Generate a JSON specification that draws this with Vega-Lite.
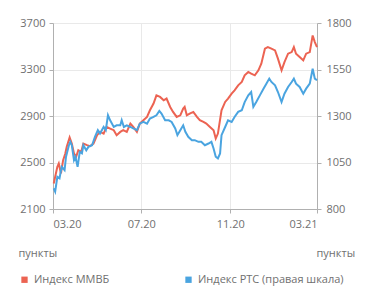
{
  "$schema": "https://vega.github.io/schema/vega-lite/v6.json",
  "width": 264,
  "height": 186,
  "autosize": {"type": "none"},
  "padding": {"left": 53, "top": 23, "right": 54, "bottom": 94},
  "background": "white",
  "config": {
    "view": {"stroke": null},
    "font": "Open Sans",
    "axis": {
      "labelFont": "Open Sans", "labelFontSize": 11, "labelColor": "#707070",
      "domainColor": "#b0b0b0", "tickColor": "#b0b0b0", "tickSize": 4,
      "gridColor": "#e9e9e9", "titleFont": "Open Sans", "titleFontSize": 11,
      "titleFontWeight": "normal", "titleColor": "#707070"
    },
    "legend": {
      "labelFont": "Open Sans", "labelFontSize": 11, "labelColor": "#707070", "padding": 0
    }
  },
  "data": {"values": [
    {"d":"2020-03-02","s":"m","v":2320},{"d":"2020-03-07","s":"m","v":2463},{"d":"2020-03-09","s":"m","v":2492},{"d":"2020-03-12","s":"m","v":2406},{"d":"2020-03-15","s":"m","v":2520},{"d":"2020-03-18","s":"m","v":2578},{"d":"2020-03-20","s":"m","v":2635},{"d":"2020-03-24","s":"m","v":2715},{"d":"2020-03-27","s":"m","v":2663},{"d":"2020-03-30","s":"m","v":2578},
    {"d":"2020-04-02","s":"m","v":2549},{"d":"2020-04-05","s":"m","v":2606},{"d":"2020-04-09","s":"m","v":2592},{"d":"2020-04-12","s":"m","v":2663},{"d":"2020-04-17","s":"m","v":2649},{"d":"2020-04-21","s":"m","v":2640},{"d":"2020-04-26","s":"m","v":2663},
    {"d":"2020-05-01","s":"m","v":2735},{"d":"2020-05-05","s":"m","v":2763},{"d":"2020-05-10","s":"m","v":2749},{"d":"2020-05-14","s":"m","v":2806},{"d":"2020-05-19","s":"m","v":2792},{"d":"2020-05-24","s":"m","v":2778},{"d":"2020-05-28","s":"m","v":2735},
    {"d":"2020-06-02","s":"m","v":2763},{"d":"2020-06-06","s":"m","v":2778},{"d":"2020-06-11","s":"m","v":2763},{"d":"2020-06-16","s":"m","v":2835},{"d":"2020-06-20","s":"m","v":2806},{"d":"2020-06-25","s":"m","v":2763},{"d":"2020-06-29","s":"m","v":2835},
    {"d":"2020-07-04","s":"m","v":2864},{"d":"2020-07-09","s":"m","v":2892},{"d":"2020-07-13","s":"m","v":2949},{"d":"2020-07-18","s":"m","v":3007},{"d":"2020-07-22","s":"m","v":3078},{"d":"2020-07-27","s":"m","v":3064},
    {"d":"2020-08-01","s":"m","v":3035},{"d":"2020-08-05","s":"m","v":3050},{"d":"2020-08-10","s":"m","v":2978},{"d":"2020-08-14","s":"m","v":2935},{"d":"2020-08-19","s":"m","v":2892},{"d":"2020-08-24","s":"m","v":2906},{"d":"2020-08-28","s":"m","v":2964},{"d":"2020-08-30","s":"m","v":2978},
    {"d":"2020-09-02","s":"m","v":2906},{"d":"2020-09-06","s":"m","v":2921},{"d":"2020-09-11","s":"m","v":2935},{"d":"2020-09-16","s":"m","v":2892},{"d":"2020-09-20","s":"m","v":2864},{"d":"2020-09-25","s":"m","v":2849},{"d":"2020-09-29","s":"m","v":2835},
    {"d":"2020-10-04","s":"m","v":2806},{"d":"2020-10-09","s":"m","v":2778},{"d":"2020-10-12","s":"m","v":2706},{"d":"2020-10-15","s":"m","v":2749},{"d":"2020-10-20","s":"m","v":2949},{"d":"2020-10-25","s":"m","v":3021},{"d":"2020-10-29","s":"m","v":3050},
    {"d":"2020-11-03","s":"m","v":3093},{"d":"2020-11-07","s":"m","v":3121},{"d":"2020-11-12","s":"m","v":3164},{"d":"2020-11-17","s":"m","v":3193},{"d":"2020-11-21","s":"m","v":3250},{"d":"2020-11-26","s":"m","v":3279},{"d":"2020-11-30","s":"m","v":3264},
    {"d":"2020-12-05","s":"m","v":3250},{"d":"2020-12-10","s":"m","v":3293},{"d":"2020-12-14","s":"m","v":3350},{"d":"2020-12-19","s":"m","v":3479},{"d":"2020-12-23","s":"m","v":3493},{"d":"2020-12-28","s":"m","v":3479},
    {"d":"2021-01-02","s":"m","v":3464},{"d":"2021-01-06","s":"m","v":3393},{"d":"2021-01-11","s":"m","v":3293},{"d":"2021-01-15","s":"m","v":3364},{"d":"2021-01-20","s":"m","v":3436},{"d":"2021-01-25","s":"m","v":3450},{"d":"2021-01-28","s":"m","v":3493},{"d":"2021-01-31","s":"m","v":3436},
    {"d":"2021-02-05","s":"m","v":3407},{"d":"2021-02-10","s":"m","v":3379},{"d":"2021-02-14","s":"m","v":3436},{"d":"2021-02-19","s":"m","v":3450},{"d":"2021-02-23","s":"m","v":3593},{"d":"2021-02-26","s":"m","v":3536},{"d":"2021-03-01","s":"m","v":3493},

    {"d":"2020-03-02","s":"r","v":911},{"d":"2020-03-04","s":"r","v":893},{"d":"2020-03-07","s":"r","v":973},{"d":"2020-03-10","s":"r","v":965},{"d":"2020-03-13","s":"r","v":1027},{"d":"2020-03-17","s":"r","v":1009},{"d":"2020-03-19","s":"r","v":1081},{"d":"2020-03-23","s":"r","v":1143},{"d":"2020-03-25","s":"r","v":1161},{"d":"2020-03-27","s":"r","v":1143},{"d":"2020-03-30","s":"r","v":1063},
    {"d":"2020-04-01","s":"r","v":1081},{"d":"2020-04-04","s":"r","v":1027},{"d":"2020-04-07","s":"r","v":1107},{"d":"2020-04-10","s":"r","v":1099},{"d":"2020-04-12","s":"r","v":1143},{"d":"2020-04-16","s":"r","v":1116},{"d":"2020-04-19","s":"r","v":1134},{"d":"2020-04-24","s":"r","v":1143},{"d":"2020-04-28","s":"r","v":1188},
    {"d":"2020-05-02","s":"r","v":1224},{"d":"2020-05-05","s":"r","v":1206},{"d":"2020-05-10","s":"r","v":1241},{"d":"2020-05-13","s":"r","v":1224},{"d":"2020-05-16","s":"r","v":1304},{"d":"2020-05-19","s":"r","v":1277},{"d":"2020-05-24","s":"r","v":1241},{"d":"2020-05-28","s":"r","v":1250},
    {"d":"2020-06-02","s":"r","v":1250},{"d":"2020-06-04","s":"r","v":1277},{"d":"2020-06-07","s":"r","v":1241},{"d":"2020-06-11","s":"r","v":1250},{"d":"2020-06-16","s":"r","v":1241},{"d":"2020-06-20","s":"r","v":1233},{"d":"2020-06-25","s":"r","v":1224},{"d":"2020-06-29","s":"r","v":1259},
    {"d":"2020-07-04","s":"r","v":1268},{"d":"2020-07-09","s":"r","v":1259},{"d":"2020-07-13","s":"r","v":1286},{"d":"2020-07-18","s":"r","v":1295},{"d":"2020-07-22","s":"r","v":1304},{"d":"2020-07-26","s":"r","v":1327},{"d":"2020-07-29","s":"r","v":1313},
    {"d":"2020-08-03","s":"r","v":1277},{"d":"2020-08-08","s":"r","v":1277},{"d":"2020-08-12","s":"r","v":1268},{"d":"2020-08-17","s":"r","v":1233},{"d":"2020-08-20","s":"r","v":1197},{"d":"2020-08-24","s":"r","v":1224},{"d":"2020-08-28","s":"r","v":1250},{"d":"2020-08-31","s":"r","v":1215},
    {"d":"2020-09-04","s":"r","v":1188},{"d":"2020-09-09","s":"r","v":1170},{"d":"2020-09-13","s":"r","v":1170},{"d":"2020-09-18","s":"r","v":1161},{"d":"2020-09-22","s":"r","v":1161},{"d":"2020-09-27","s":"r","v":1143},
    {"d":"2020-10-02","s":"r","v":1152},{"d":"2020-10-06","s":"r","v":1161},{"d":"2020-10-09","s":"r","v":1125},{"d":"2020-10-12","s":"r","v":1081},{"d":"2020-10-15","s":"r","v":1072},{"d":"2020-10-18","s":"r","v":1099},{"d":"2020-10-20","s":"r","v":1197},{"d":"2020-10-25","s":"r","v":1241},{"d":"2020-10-29","s":"r","v":1277},
    {"d":"2020-11-03","s":"r","v":1268},{"d":"2020-11-07","s":"r","v":1295},{"d":"2020-11-12","s":"r","v":1322},{"d":"2020-11-17","s":"r","v":1331},{"d":"2020-11-21","s":"r","v":1375},{"d":"2020-11-26","s":"r","v":1411},{"d":"2020-11-30","s":"r","v":1429},
    {"d":"2020-12-03","s":"r","v":1349},{"d":"2020-12-07","s":"r","v":1375},{"d":"2020-12-12","s":"r","v":1411},{"d":"2020-12-17","s":"r","v":1447},{"d":"2020-12-21","s":"r","v":1474},{"d":"2020-12-25","s":"r","v":1501},{"d":"2020-12-28","s":"r","v":1483},
    {"d":"2021-01-02","s":"r","v":1465},{"d":"2021-01-06","s":"r","v":1429},{"d":"2021-01-11","s":"r","v":1375},{"d":"2021-01-15","s":"r","v":1420},{"d":"2021-01-20","s":"r","v":1456},{"d":"2021-01-25","s":"r","v":1483},{"d":"2021-01-28","s":"r","v":1501},{"d":"2021-01-31","s":"r","v":1474},
    {"d":"2021-02-05","s":"r","v":1456},{"d":"2021-02-10","s":"r","v":1420},{"d":"2021-02-14","s":"r","v":1447},{"d":"2021-02-19","s":"r","v":1474},{"d":"2021-02-23","s":"r","v":1554},{"d":"2021-02-26","s":"r","v":1501},{"d":"2021-03-01","s":"r","v":1492}
  ]},
  "encoding": {
    "x": {
      "field": "d", "type": "temporal",
      "scale": {"type": "utc", "domain": [{"year": 2020, "month": 3, "date": 1, "utc": true}, {"year": 2021, "month": 3, "date": 1, "utc": true}]},
      "axis": {
        "title": null, "format": "%m.%y", "labelPadding": 5,
        "values": [{"year": 2020, "month": 3, "date": 1, "utc": true}, {"year": 2020, "month": 7, "date": 1, "utc": true}, {"year": 2020, "month": 11, "date": 1, "utc": true}, {"year": 2021, "month": 3, "date": 1, "utc": true}]
      }
    },
    "color": {
      "field": "s", "type": "nominal",
      "scale": {"domain": ["m", "r"], "range": ["#ec6352", "#4aa4e0"]},
      "legend": {
        "title": null, "orient": "none", "legendX": -34, "legendY": 251,
        "direction": "horizontal", "symbolType": "square", "symbolSize": 40,
        "symbolStrokeWidth": 0, "labelOffset": 4, "columnPadding": 73,
        "labelExpr": "datum.label == 'm' ? 'Индекс ММВБ' : 'Индекс РТС (правая шкала)'",
        "encode": {"symbols": {"update": {"fill": {"scale": "color", "field": "value"}, "fillOpacity": {"value": 1}, "strokeWidth": {"value": 0}}}}
      }
    }
  },
  "layer": [
    {
      "transform": [{"filter": "datum.s == 'm'"}],
      "mark": {"type": "line", "strokeWidth": 2, "interpolate": "linear"},
      "encoding": {
        "y": {
          "field": "v", "type": "quantitative",
          "scale": {"domain": [2100, 3700], "nice": false, "zero": false},
          "axis": {
            "values": [2100, 2500, 2900, 3300, 3700], "format": "d", "orient": "left", "labelPadding": 4,
            "title": "пункты", "titleAngle": 0, "titleX": -35, "titleY": 230,
            "titleAlign": "left", "titleBaseline": "middle"
          }
        }
      }
    },
    {
      "transform": [{"filter": "datum.s == 'r'"}],
      "mark": {"type": "line", "strokeWidth": 2, "interpolate": "linear"},
      "encoding": {
        "y": {
          "field": "v", "type": "quantitative",
          "scale": {"domain": [800, 1800], "nice": false, "zero": false},
          "axis": {
            "values": [800, 1050, 1300, 1550, 1800], "format": "d", "orient": "right", "grid": false, "labelPadding": 5,
            "title": "пункты", "titleAngle": 0, "titleX": -1, "titleY": 230,
            "titleAlign": "left", "titleBaseline": "middle"
          }
        }
      }
    }
  ],
  "resolve": {"scale": {"y": "independent"}}
}
